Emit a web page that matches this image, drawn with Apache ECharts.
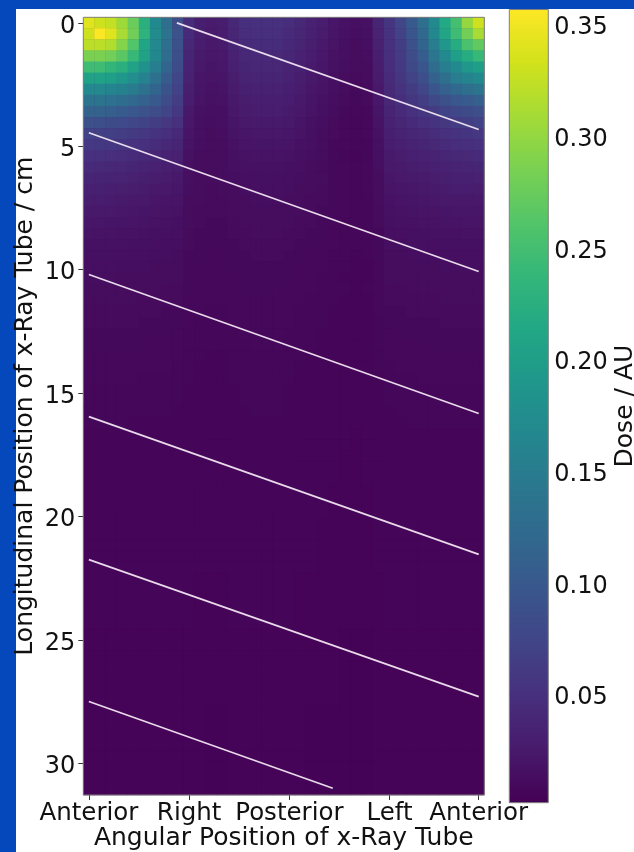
<!DOCTYPE html>
<html><head><meta charset="utf-8">
<script src="https://cdn.jsdelivr.net/npm/echarts@6/dist/echarts.min.js"></script>
<style>html,body{margin:0;padding:0;background:#0448bc;}#chart{width:634px;height:852px;}</style>
</head><body><div id="chart"></div>
<script>
// ---- data ----
const angleDeg = [0,10,20,30,40,50,60,70,80,90,100,110,120,130,140,150,160,170,180,190,200,210,220,230,240,250,260,270,280,290,300,310,320,330,340,350];
const depthCm = [0,0.45,0.9,1.35,1.8,2.25,2.7,3.15,3.6,4.05,4.5,4.95,5.4,5.85,6.3,6.75,7.2,7.65,8.1,8.55,9,9.45,9.9,10.35,10.8,11.25,11.7,12.15,12.6,13.05,13.5,13.95,14.4,14.85,15.3,15.75,16.2,16.65,17.1,17.55,18,18.45,18.9,19.35,19.8,20.25,20.7,21.15,21.6,22.05,22.5,22.95,23.4,23.85,24.3,24.75,25.2,25.65,26.1,26.55,27,27.45,27.9,28.35,28.8,29.25,29.7,30.15,30.6,31.05];
const xTickAngles = [0, 90, 180, 270, 350];
const xTickNames = ['Anterior', 'Right', 'Posterior', 'Left', 'Anterior'];
const yTickCm = [0, 5, 10, 15, 20, 25, 30];
const doseTicks = [0.05, 0.10, 0.15, 0.20, 0.25, 0.30, 0.35];
const doseMin = 0.001, doseMax = 0.356;
// helical tube path segments: [angle deg, longitudinal cm]
const helixSegments = [
  [[79, 0.0], [350, 4.32]],
  [[0, 4.45], [350, 10.07]],
  [[0, 10.19], [350, 15.82]],
  [[0, 15.95], [350, 21.53]],
  [[0, 21.74], [350, 27.29]],
  [[0, 27.49], [219, 31.0]]
];
// dose in milli-AU; one row per longitudinal position (top to bottom), one column per angle
const doseTopRows = [
[340,330,325,305,275,225,170,130,85, 45,30,26,28,40,48,50,50,50,46,40,33,27,21,17,14,16,36, 55,75,100,130,170,215,250,300,330],
[330,355,340,310,280,230,172,135,90, 43,29,25,27,38,46,48,48,48,44,38,31,26,20,16,13,15,34, 52,70,95,120,165,210,245,280,310],
[320,320,315,290,260,210,168,130,88, 40,27,23,25,36,43,45,45,45,41,36,29,24,19,15,12,14,32, 50,65,88,115,150,190,220,255,270],
[285,285,280,265,240,205,165,125,86, 37,25,22,23,33,40,42,42,42,38,33,27,22,17,14,12,13,30, 48,62,82,105,140,170,200,220,240],
[245,245,235,225,205,180,150,115,82, 35,23,20,22,31,37,39,39,39,35,31,25,21,16,13,11,12,28, 46,60,78,95,125,150,170,190,200],
[205,205,200,190,175,158,132,102,76, 32,21,19,20,28,34,36,36,36,33,28,23,19,15,12,10,11,26, 44,56,70,85,110,130,150,160,170],
[168,168,162,157,147,132,115,92,70, 29,20,17,18,26,31,33,33,33,30,26,21,18,14,11,9,10,24, 42,52,63,75,95,110,120,130,135],
[137,137,132,127,120,110,100,82,65, 27,18,16,17,24,28,30,30,30,27,24,20,16,13,10,9,10,22, 39,47,56,65,78,88,97,102,107],
[112,112,107,102,97,91,82,72,59, 24,16,14,15,22,26,27,27,27,25,22,18,15,12,9,8,9,20, 36,43,50,56,63,71,76,81,85],
[88,86,83,80,76,71,65,58,50, 22,15,13,14,20,24,25,25,25,23,20,16,13,10,8,7,8,18, 33,38,44,48,53,58,63,66,70],
[70,69,67,64,61,57,53,48,42, 20,14,12,13,18,21,22,22,22,21,18,15,12,10,8,7,8,16, 30,34,38,42,45,49,53,55,58],
[60,59,57,55,52,49,45,41,37, 18,13,11,12,16,19,20,20,20,19,16,14,11,9,8,7,7,15, 27,31,34,37,40,43,46,48,50],
[50,49,48,46,44,41,38,35,32, 16,12,11,11,15,17,18,18,18,17,15,13,11,9,7,6,7,14, 25,28,31,33,35,38,40,42,43],
[43,42,41,39,37,35,33,30,28, 15,12,11,11,14,16,16,16,16,15,14,12,10,9,8,7,8,13, 23,25,28,29,31,33,35,36,37],
[37,36,35,34,32,30,28,26,24, 14,12,11,11,13,14,15,15,15,14,13,12,11,9,8,7,8,12, 21,23,25,26,28,29,31,31,32],
[31,31,30,29,28,26,24,23,21, 13,11,10,11,12,13,14,14,14,13,12,11,10,9,8,7,8,11, 19,21,22,23,25,26,27,27,28],
[27,27,26,25,24,23,21,20,19, 12,11,10,10,12,12,13,13,13,12,11,10,10,9,8,7,7,11, 17,19,20,21,22,23,24,24,24],
[24,24,23,22,21,20,19,18,17, 11,10,10,10,11,12,12,12,12,11,11,10,9,8,8,7,7,10, 16,17,18,19,19,20,21,21,21],
[21,21,20,20,19,18,17,16,15, 11,10,9,9,10,11,11,11,11,11,10,10,9,8,7,7,7,10, 15,16,16,17,17,18,18,19,19],
[18,18,18,17,17,16,15,15,14, 10,9,9,9,10,10,11,11,11,10,10,9,9,8,7,7,7,9, 14,14,15,15,16,16,16,17,17],
[16,16,16,16,15,15,14,13,13, 10,9,9,9,9,10,10,10,10,10,9,9,8,8,7,7,7,9, 13,13,14,14,14,15,15,15,15],
[15,15,15,14,14,14,13,13,12, 9,9,8,8,9,9,10,10,10,9,9,8,8,7,7,6,7,9, 12,12,13,13,13,14,14,14,14],
[14,14,14,13,13,13,12,12,11, 9,8,8,8,9,9,9,9,9,9,8,8,8,7,7,6,6,8, 11,12,12,12,12,13,13,13,13],
[13,13,13,12,12,12,11,11,11, 9,8,8,8,8,9,9,9,9,9,8,8,7,7,6,6,6,8, 11,11,11,11,12,12,12,12,12]
];
const doseMidRows = [
[12,12,12,12,11,11,11,10,10, 9,8,8,8,8,9,9,9,9,8,8,8,7,7,7,6,7,8, 10,10,11,11,11,11,11,11,12],
[11,11,11,11,11,10,10,10,10, 8,8,8,8,8,8,8,8,8,8,8,7,7,7,6,6,6,8, 10,10,10,10,10,11,11,11,11],
[10,10,10,10,10,10,10,9,9, 8,8,7,7,8,8,8,8,8,8,7,7,7,6,6,6,6,8, 9,9,10,10,10,10,10,10,10],
[10,10,10,10,10,9,9,9,9, 8,7,7,7,8,8,8,8,8,8,7,7,7,6,6,6,6,7, 9,9,9,9,9,10,10,10,10],
[9,9,9,9,9,9,9,9,8, 7,7,7,7,7,8,8,8,8,7,7,7,6,6,6,5,6,7, 8,9,9,9,9,9,9,9,9],
[9,9,9,9,9,9,8,8,8, 7,7,7,7,7,7,8,8,8,7,7,7,6,6,6,5,6,7, 8,8,8,9,9,9,9,9,9],
[8,8,8,8,8,8,8,8,8, 7,7,6,6,7,7,7,7,7,7,7,6,6,6,5,5,5,7, 8,8,8,8,8,8,8,8,8],
[8,8,8,8,8,8,8,8,7, 7,6,6,6,7,7,7,7,7,7,6,6,6,6,5,5,5,7, 7,8,8,8,8,8,8,8,8],
[8,8,8,8,8,7,7,7,7, 7,6,6,6,7,7,7,7,7,7,6,6,6,5,5,5,5,6, 7,7,7,8,8,8,8,8,8],
[7,7,7,7,7,7,7,7,7, 6,6,6,6,6,7,7,7,7,6,6,6,6,5,5,5,5,6, 7,7,7,7,7,7,7,7,7],
[7,7,7,7,7,7,7,7,7, 6,6,6,6,6,7,7,7,7,6,6,6,6,5,5,5,5,6, 7,7,7,7,7,7,7,7,7],
[7,7,7,7,7,7,7,7,6, 6,6,6,6,6,6,7,7,7,6,6,6,5,5,5,5,5,6, 6,7,7,7,7,7,7,7,7],
[7,7,7,7,6,6,6,6,6, 6,6,6,6,6,6,6,6,6,6,6,6,5,5,5,5,5,6, 6,6,7,7,7,7,7,7,7],
[6,6,6,6,6,6,6,6,6, 6,6,5,5,6,6,6,6,6,6,6,5,5,5,5,4,5,6, 6,6,6,6,6,6,6,6,6],
[6,6,6,6,6,6,6,6,6, 6,6,5,5,6,6,6,6,6,6,6,5,5,5,5,4,5,6, 6,6,6,6,6,6,6,6,6],
[6,6,6,6,6,6,6,6,6, 6,5,5,5,6,6,6,6,6,6,5,5,5,5,4,4,5,5, 6,6,6,6,6,6,6,6,6],
[6,6,6,6,6,6,6,6,6, 6,5,5,5,6,6,6,6,6,6,5,5,5,5,4,4,5,5, 6,6,6,6,6,6,6,6,6],
[6,6,6,6,6,6,6,6,6, 6,5,5,5,6,6,6,6,6,6,5,5,5,5,4,4,5,5, 6,6,6,6,6,6,6,6,6],
[6,6,6,6,6,6,6,6,6, 5,5,5,5,5,6,6,6,6,5,5,5,5,4,4,4,4,5, 6,6,6,6,6,6,6,6,6],
[6,6,6,6,6,6,6,6,6, 5,5,5,5,5,6,6,6,6,5,5,5,5,4,4,4,4,5, 6,6,6,6,6,6,6,6,6],
[6,6,6,6,6,6,6,6,6, 5,5,5,5,5,6,6,6,6,5,5,5,5,4,4,4,4,5, 6,6,6,6,6,6,6,6,6],
[5,5,5,5,5,5,5,5,5, 5,5,5,5,5,5,5,5,5,5,5,5,4,4,4,4,4,5, 5,5,5,5,5,5,5,5,5],
[5,5,5,5,5,5,5,5,5, 5,5,5,5,5,5,5,5,5,5,5,5,4,4,4,4,4,5, 5,5,5,5,5,5,5,5,5],
[5,5,5,5,5,5,5,5,5, 5,5,5,5,5,5,5,5,5,5,5,5,4,4,4,4,4,5, 5,5,5,5,5,5,5,5,5],
[5,5,5,5,5,5,5,5,5, 5,5,5,5,5,5,5,5,5,5,5,5,4,4,4,4,4,5, 5,5,5,5,5,5,5,5,5],
[5,5,5,5,5,5,5,5,5, 5,5,5,5,5,5,5,5,5,5,5,5,4,4,4,4,4,5, 5,5,5,5,5,5,5,5,5]
];
const doseDeepRows = [
[5,5,5,5,5,5,5,5,5, 5,4,4,4,5,5,5,5,5,5,4,4,4,4,4,4,4,4, 5,5,5,5,5,5,5,5,5],
[5,5,5,5,5,5,5,5,5, 5,4,4,4,5,5,5,5,5,5,4,4,4,4,4,4,4,4, 5,5,5,5,5,5,5,5,5],
[5,5,5,5,5,5,5,5,5, 5,4,4,4,5,5,5,5,5,5,4,4,4,4,4,4,4,4, 5,5,5,5,5,5,5,5,5],
[5,5,5,5,5,5,5,5,5, 5,4,4,4,5,5,5,5,5,5,4,4,4,4,4,4,4,4, 5,5,5,5,5,5,5,5,5],
[5,5,5,5,5,5,5,5,5, 5,4,4,4,5,5,5,5,5,5,4,4,4,4,4,4,4,4, 5,5,5,5,5,5,5,5,5],
[4,4,4,4,4,4,4,4,4, 4,4,4,4,4,4,4,4,4,4,4,4,4,4,3,3,3,4, 4,4,4,4,4,4,4,4,4],
[4,4,4,4,4,4,4,4,4, 4,4,4,4,4,4,4,4,4,4,4,4,4,4,3,3,3,4, 4,4,4,4,4,4,4,4,4],
[4,4,4,4,4,4,4,4,4, 4,4,4,4,4,4,4,4,4,4,4,4,4,4,3,3,3,4, 4,4,4,4,4,4,4,4,4],
[4,4,4,4,4,4,4,4,4, 4,4,4,4,4,4,4,4,4,4,4,4,4,4,3,3,3,4, 4,4,4,4,4,4,4,4,4],
[4,4,4,4,4,4,4,4,4, 4,4,4,4,4,4,4,4,4,4,4,4,4,4,3,3,3,4, 4,4,4,4,4,4,4,4,4],
[4,4,4,4,4,4,4,4,4, 4,4,4,4,4,4,4,4,4,4,4,4,4,4,3,3,3,4, 4,4,4,4,4,4,4,4,4],
[4,4,4,4,4,4,4,4,4, 4,4,4,4,4,4,4,4,4,4,4,4,4,4,3,3,3,4, 4,4,4,4,4,4,4,4,4],
[4,4,4,4,4,4,4,4,4, 4,4,3,3,4,4,4,4,4,4,4,3,3,3,3,3,3,4, 4,4,4,4,4,4,4,4,4],
[4,4,4,4,4,4,4,4,4, 4,4,3,3,4,4,4,4,4,4,4,3,3,3,3,3,3,4, 4,4,4,4,4,4,4,4,4],
[4,4,4,4,4,4,4,4,4, 4,4,3,3,4,4,4,4,4,4,4,3,3,3,3,3,3,4, 4,4,4,4,4,4,4,4,4],
[4,4,4,4,4,4,4,4,4, 4,4,3,3,4,4,4,4,4,4,4,3,3,3,3,3,3,4, 4,4,4,4,4,4,4,4,4],
[4,4,4,4,4,4,4,4,4, 4,4,3,3,4,4,4,4,4,4,4,3,3,3,3,3,3,4, 4,4,4,4,4,4,4,4,4],
[4,4,4,4,4,4,4,4,4, 4,4,3,3,4,4,4,4,4,4,4,3,3,3,3,3,3,4, 4,4,4,4,4,4,4,4,4],
[4,4,4,4,4,4,4,4,4, 4,4,3,3,4,4,4,4,4,4,4,3,3,3,3,3,3,4, 4,4,4,4,4,4,4,4,4],
[4,4,4,4,4,4,4,4,4, 4,4,3,3,4,4,4,4,4,4,4,3,3,3,3,3,3,4, 4,4,4,4,4,4,4,4,4]
];
const viridis = ['#440154','#481a6c','#472f7d','#414487','#39568c','#31688e','#2a788e','#23888e','#1f988b','#22a884','#35b779','#54c568','#7ad151','#a5db36','#d2e21b','#fde725'];

// ---- build ----
const doseRows = doseTopRows.concat(doseMidRows, doseDeepRows);
const heatData = [];
doseRows.forEach((row, r) => row.forEach((v, c) => heatData.push([c, r, v / 1000])));
const halfX = (angleDeg[1] - angleDeg[0]) / 2;
const halfY = (depthCm[1] - depthCm[0]) / 2;
const xMin = angleDeg[0] - halfX, xMax = angleDeg[angleDeg.length - 1] + halfX;
const yMin = depthCm[0] - halfY, yMax = depthCm[depthCm.length - 1] + halfY;

const FONT = 'DejaVu Sans';
const TXT = '#111';
const SPINE = '#808080';
const plot = {left: 83.3, top: 17.3, width: 401, height: 777.7, outerBoundsMode: 'none', containLabel: false};
const cbar = {left: 509.3, top: 9.5, width: 39, height: 793.2, outerBoundsMode: 'none', containLabel: false};

const lineSeries = helixSegments.map(seg => ({
  type: 'line', xAxisIndex: 1, yAxisIndex: 1, data: seg, symbol: 'none', silent: true,
  lineStyle: {color: 'rgba(242,230,242,0.95)', width: 1.7}, z: 5, animation: false
}));

const chart = echarts.init(document.getElementById('chart'), null, {renderer: 'canvas'});
chart.setOption({
  backgroundColor: '#0448bc',
  animation: false,
  textStyle: {fontFamily: FONT},
  graphic: [
    {type: 'rect', shape: {x: 16, y: 9, width: 618, height: 843}, style: {fill: '#ffffff'}, z: -100, silent: true},
    {type: 'rect', shape: {x: cbar.left, y: cbar.top, width: cbar.width, height: cbar.height}, silent: true, z: 1,
     style: {fill: new echarts.graphic.LinearGradient(0, 1, 0, 0,
       viridis.map((c, i) => ({offset: i / (viridis.length - 1), color: c})))}}
  ],
  grid: [
    Object.assign({show: true, backgroundColor: '#440154', borderWidth: 0}, plot),
    Object.assign({show: true, borderColor: SPINE, borderWidth: 1, backgroundColor: 'transparent', z: 10}, plot),
    Object.assign({show: true, borderColor: SPINE, borderWidth: 1, backgroundColor: 'transparent', z: 10}, cbar)
  ],
  xAxis: [
    {gridIndex: 0, type: 'category', data: angleDeg, show: false},
    {gridIndex: 1, type: 'value', min: xMin, max: xMax, position: 'bottom',
     axisLine: {show: false, onZero: false}, splitLine: {show: false},
     axisTick: {show: true, customValues: xTickAngles, length: 5, lineStyle: {color: '#333', width: 1}},
     axisLabel: {customValues: xTickAngles, formatter: v => xTickNames[xTickAngles.indexOf(v)],
       fontFamily: FONT, fontSize: 24.5, color: TXT, margin: 6},
     name: 'Angular Position of x-Ray Tube', nameLocation: 'middle', nameGap: 31, nameMoveOverlap: false,
     nameTextStyle: {fontFamily: FONT, fontSize: 25, color: TXT}},
    {gridIndex: 2, type: 'value', show: false, min: 0, max: 1}
  ],
  yAxis: [
    {gridIndex: 0, type: 'category', data: depthCm, inverse: true, show: false},
    {gridIndex: 1, type: 'value', min: yMin, max: yMax, inverse: true, position: 'left',
     axisLine: {show: false, onZero: false}, splitLine: {show: false},
     axisTick: {show: true, customValues: yTickCm, length: 5, lineStyle: {color: '#333', width: 1}},
     axisLabel: {customValues: yTickCm, fontFamily: FONT, fontSize: 24, color: TXT, margin: 8,
       verticalAlign: 'top', lineHeight: 7},
     name: 'Longitudinal Position of x-Ray Tube / cm', nameLocation: 'middle', nameGap: 45, nameRotate: 90,
     nameMoveOverlap: false,
     nameTextStyle: {fontFamily: FONT, fontSize: 25, color: TXT}},
    {gridIndex: 2, type: 'value', min: doseMin, max: doseMax, position: 'right',
     axisLine: {show: false}, splitLine: {show: false},
     axisTick: {show: true, customValues: doseTicks, length: 5, lineStyle: {color: '#333', width: 1}},
     axisLabel: {customValues: doseTicks, formatter: v => v.toFixed(2), fontFamily: FONT, fontSize: 24,
       color: TXT, margin: 6, verticalAlign: 'top', lineHeight: 10},
     name: 'Dose / AU', nameLocation: 'middle', nameGap: 65, nameRotate: 90, nameMoveOverlap: false,
     nameTextStyle: {fontFamily: FONT, fontSize: 25, color: TXT}}
  ],
  visualMap: {
    type: 'continuous', min: doseMin, max: doseMax, seriesIndex: 0, show: false, inRange: {color: viridis}
  },
  series: [
    {type: 'heatmap', xAxisIndex: 0, yAxisIndex: 0, data: heatData, silent: true, progressive: 0,
     emphasis: {disabled: true}, z: 2}
  ].concat(lineSeries)
});
</script></body></html>
